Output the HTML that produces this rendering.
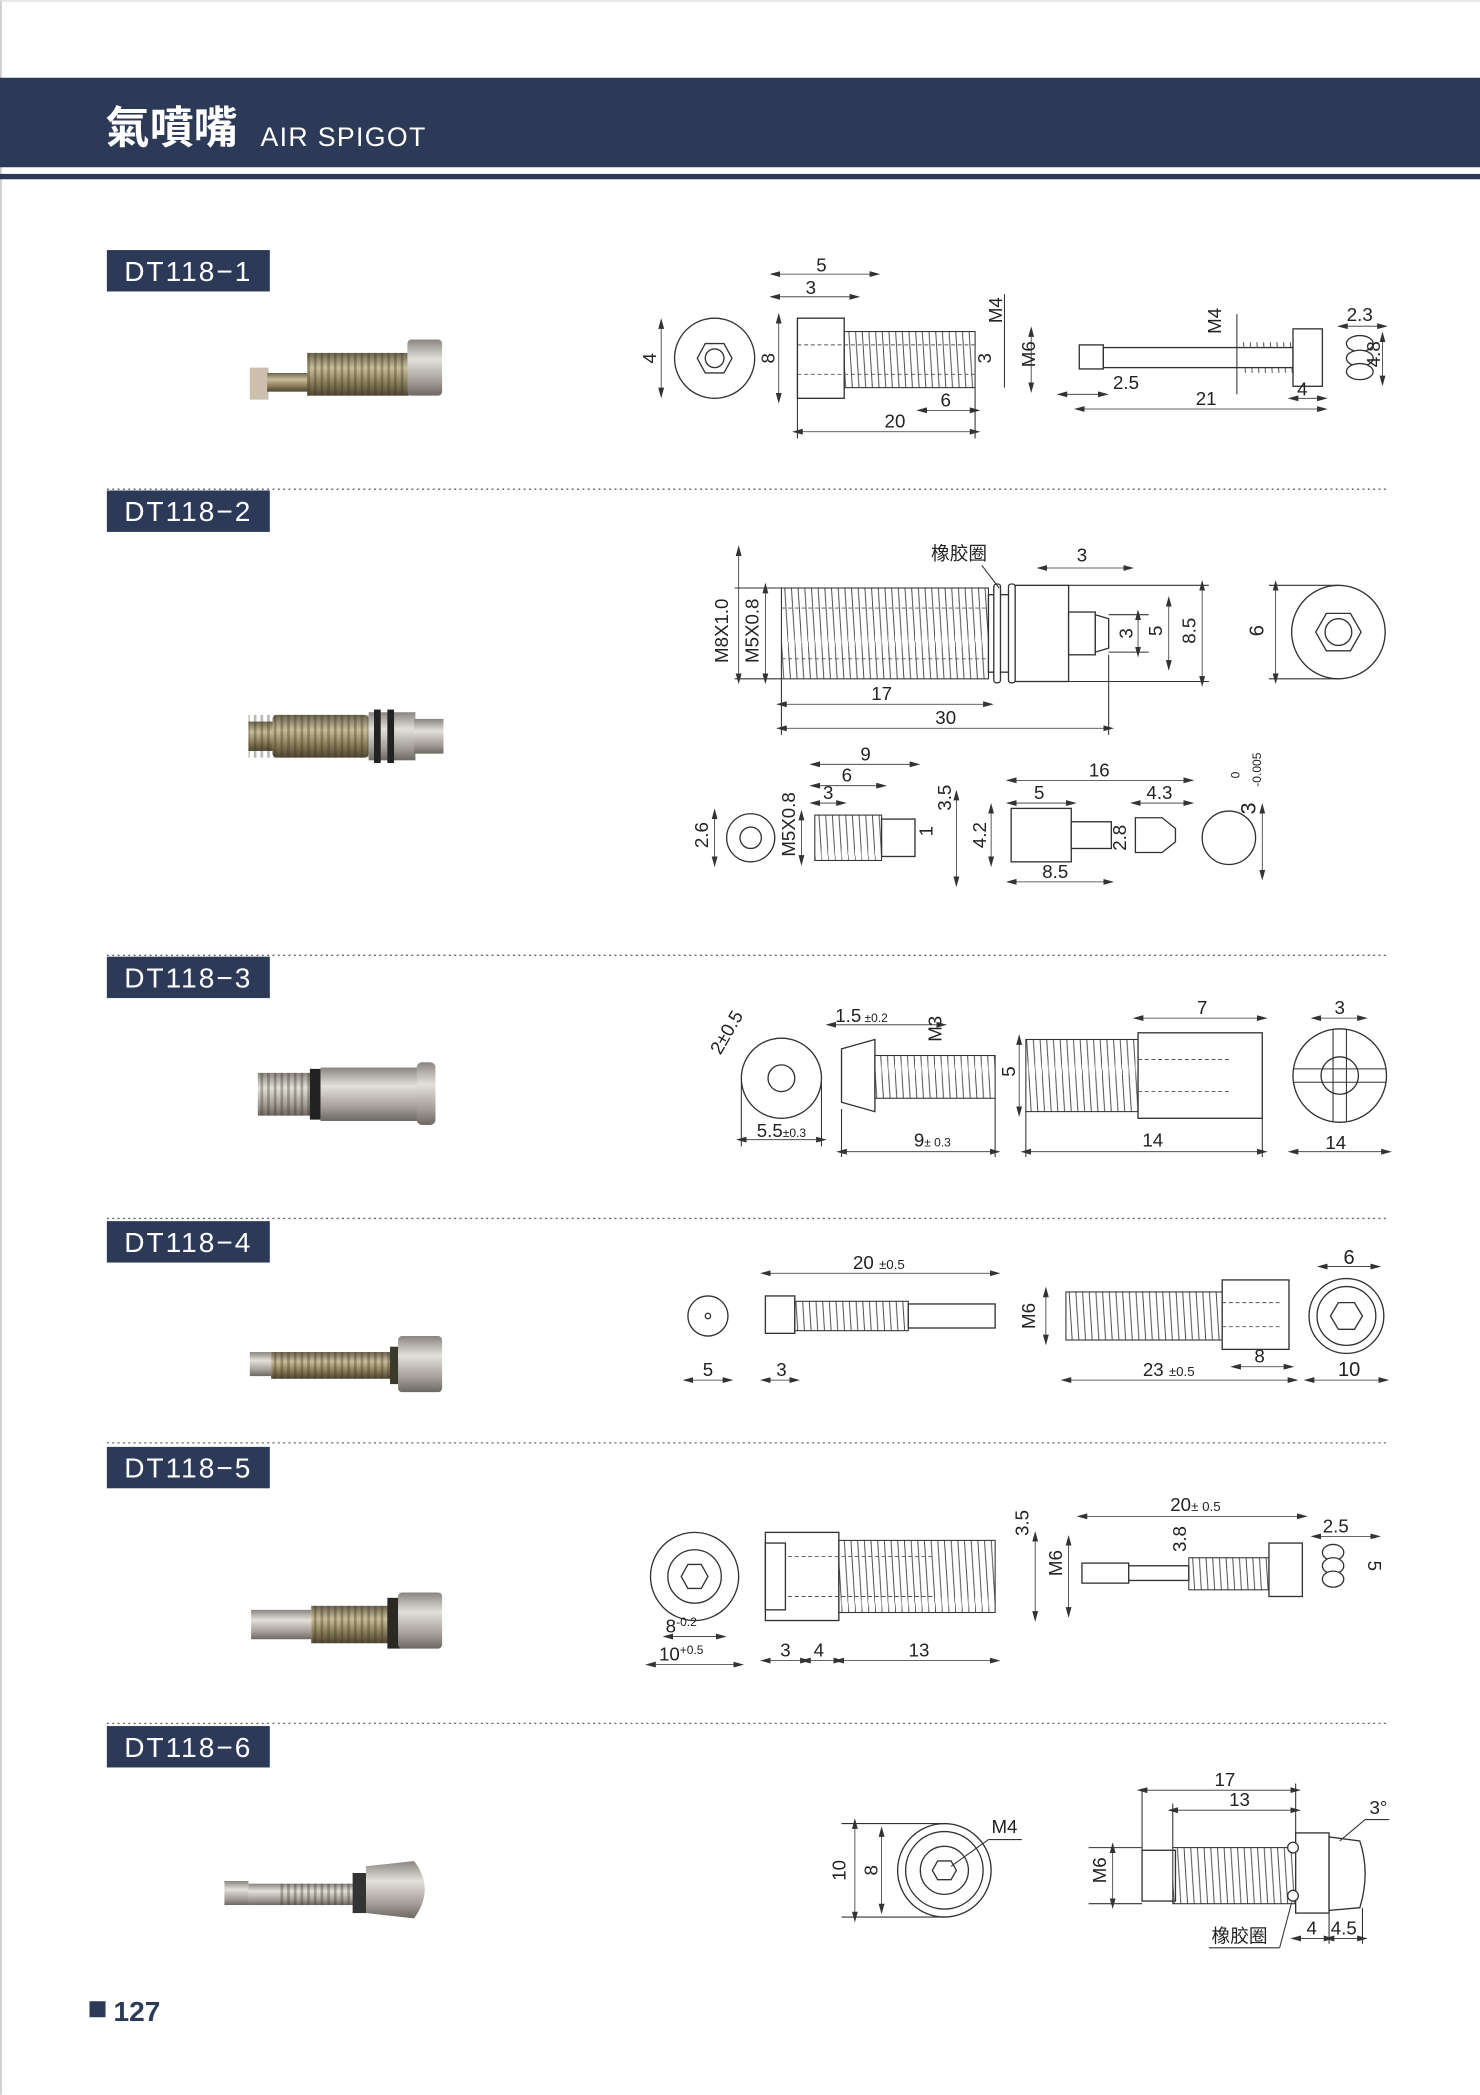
<!DOCTYPE html>
<html><head><meta charset="utf-8">
<style>
html,body{margin:0;padding:0;background:#fff}
svg{display:block}
text{font-family:"Liberation Sans","Noto Sans CJK SC",sans-serif;fill:#222}
.d{font-size:14px}
.ln{stroke:#333;stroke-width:0.8;fill:none}
.o{stroke:#333;stroke-width:1;fill:#fff}
.dash{stroke:#555;stroke-width:0.7;stroke-dasharray:3 2;fill:none}
.dm{stroke:#333;stroke-width:0.6;fill:none;marker-start:url(#a);marker-end:url(#a)}
.lab{font-size:21px;fill:#fff;letter-spacing:1.5px}
</style></head>
<body>
<svg width="1480" height="2095" viewBox="0 0 1108 1568" xmlns="http://www.w3.org/2000/svg">
<defs>
<marker id="a" markerWidth="8" markerHeight="6" refX="4" refY="3" orient="auto-start-reverse" markerUnits="userSpaceOnUse">
<path d="M8,3 L0,0.8 L0,5.2 Z" fill="#333"/></marker>
<pattern id="th" width="5" height="80" patternUnits="userSpaceOnUse">
<line x1="0" y1="0" x2="5" y2="80" stroke="#444" stroke-width="0.7"/></pattern>
<pattern id="ps" width="5" height="60" patternUnits="userSpaceOnUse">
<rect x="0" y="0" width="2" height="60" fill="#3a3222" opacity="0.35"/></pattern>
<linearGradient id="brass" x1="0" y1="0" x2="0" y2="1">
<stop offset="0" stop-color="#6d6450"/><stop offset="0.35" stop-color="#c9bd98"/><stop offset="0.7" stop-color="#8a7c58"/><stop offset="1" stop-color="#4f4634"/></linearGradient>
<linearGradient id="steel" x1="0" y1="0" x2="0" y2="1">
<stop offset="0" stop-color="#8a8580"/><stop offset="0.35" stop-color="#e3e0da"/><stop offset="0.75" stop-color="#a29d96"/><stop offset="1" stop-color="#6c6862"/></linearGradient>
</defs>
<rect x="0" y="0" width="1108" height="1568" fill="#fff"/>
<line x1="0.7" y1="0" x2="0.7" y2="1568" stroke="#bbb" stroke-width="1"/>
<line x1="0" y1="0.5" x2="1108" y2="0.5" stroke="#ddd"/>
<rect x="0" y="58" width="1108" height="67" fill="#2c3a58"/>
<rect x="0" y="130" width="1108" height="4" fill="#2c3a58"/>
<text x="79" y="107" style="font-size:33px;font-weight:bold;fill:#fff">氣噴嘴</text>
<text x="195" y="109" style="font-size:20px;fill:#fff;letter-spacing:1px">AIR SPIGOT</text>
<g>
<rect x="80" y="187" width="122" height="31" fill="#2c3a58"/><text class="lab" x="93" y="210">DT118−1</text>
<rect x="80" y="367" width="122" height="31" fill="#2c3a58"/><text class="lab" x="93" y="390">DT118−2</text>
<rect x="80" y="716" width="122" height="31" fill="#2c3a58"/><text class="lab" x="93" y="739">DT118−3</text>
<rect x="80" y="914" width="122" height="31" fill="#2c3a58"/><text class="lab" x="93" y="937">DT118−4</text>
<rect x="80" y="1083" width="122" height="31" fill="#2c3a58"/><text class="lab" x="93" y="1106">DT118−5</text>
<rect x="80" y="1292" width="122" height="31" fill="#2c3a58"/><text class="lab" x="93" y="1315">DT118−6</text>
</g>
<g stroke="#666" stroke-width="1" stroke-dasharray="1.5 2.5">
<line x1="80" y1="366" x2="1040" y2="366"/><line x1="80" y1="715" x2="1040" y2="715"/>
<line x1="80" y1="912" x2="1040" y2="912"/><line x1="80" y1="1080" x2="1040" y2="1080"/>
<line x1="80" y1="1290" x2="1040" y2="1290"/></g>
<rect x="67" y="1498" width="12" height="12" fill="#2c3a58"/>
<text x="85" y="1513" style="font-size:21px;font-weight:bold;fill:#2c3a58">127</text>

<!-- Photos -->
<g>
<rect x="187" y="275" width="14" height="24" fill="#cdbfae"/>
<rect x="200" y="279" width="32" height="14" fill="url(#brass)"/>
<rect x="230" y="264" width="76" height="32" fill="url(#brass)"/>
<rect x="230" y="264" width="76" height="32" fill="url(#ps)"/>
<rect x="305" y="254" width="26" height="42" rx="3" fill="url(#steel)"/>
</g>
<g>
<rect x="186" y="540" width="20" height="22" fill="url(#brass)"/>
<rect x="204" y="535" width="72" height="32" rx="3" fill="url(#brass)"/>
<rect x="186" y="535" width="90" height="32" fill="url(#ps)"/>
<rect x="276" y="533" width="35" height="36" fill="url(#steel)"/>
<rect x="280" y="531" width="5" height="40" fill="#222"/><rect x="290" y="531" width="5" height="40" fill="#222"/>
<rect x="310" y="538" width="22" height="26" fill="url(#steel)"/>
</g>
<g>
<rect x="193" y="803" width="40" height="32" fill="url(#steel)"/>
<rect x="193" y="803" width="40" height="32" fill="url(#ps)"/>
<rect x="232" y="800" width="8" height="38" fill="#222"/>
<rect x="240" y="799" width="75" height="40" fill="url(#steel)"/>
<rect x="312" y="795" width="14" height="47" rx="4" fill="url(#steel)"/>
</g>
<g>
<rect x="187" y="1012" width="16" height="18" fill="url(#steel)"/>
<rect x="203" y="1012" width="95" height="20" fill="url(#brass)"/>
<rect x="203" y="1012" width="90" height="20" fill="url(#ps)"/>
<rect x="292" y="1008" width="8" height="28" fill="#3a3a2a"/>
<rect x="298" y="1000" width="33" height="42" rx="3" fill="url(#steel)"/>
</g>
<g>
<rect x="188" y="1205" width="45" height="22" fill="url(#steel)"/>
<rect x="233" y="1202" width="62" height="28" fill="url(#brass)"/>
<rect x="233" y="1202" width="58" height="28" fill="url(#ps)"/>
<rect x="290" y="1196" width="10" height="38" fill="#2a2a22"/>
<rect x="298" y="1192" width="33" height="42" rx="3" fill="url(#steel)"/>
</g>
<g>
<rect x="168" y="1408" width="18" height="18" fill="url(#steel)"/>
<rect x="186" y="1410" width="85" height="16" fill="url(#steel)"/>
<rect x="210" y="1410" width="55" height="16" fill="url(#ps)"/>
<rect x="264" y="1402" width="10" height="30" fill="#333"/>
<path d="M274,1397 L310,1393 Q326,1414 310,1436 L274,1432 Z" fill="url(#steel)"/>
</g>

<!-- DT118-1 -->
<g>
<circle class="o" cx="535" cy="268" r="30"/>
<polygon class="o" points="522,268 528,257 542,257 548,268 542,279 528,279"/>
<circle class="o" cx="535" cy="268" r="7"/>
<line class="dm" x1="495" y1="242" x2="495" y2="294"/>
<text class="d" transform="translate(491,268) rotate(-90)" text-anchor="middle">4</text>
<rect class="o" x="597" y="238" width="35" height="60"/>
<rect x="632" y="248" width="98" height="42" fill="url(#th)" stroke="#333" stroke-width="0.8"/>
<line class="dash" x1="597" y1="258" x2="730" y2="258"/><line class="dash" x1="597" y1="280" x2="730" y2="280"/>
<line class="dm" x1="583" y1="238" x2="583" y2="298"/>
<text class="d" transform="translate(580,268) rotate(-90)" text-anchor="middle">8</text>
<line class="ln" x1="597" y1="238" x2="597" y2="328"/><line class="ln" x1="730" y1="290" x2="730" y2="328"/>
<line class="dm" x1="580" y1="205" x2="655" y2="205"/><text class="d" x="615" y="203" text-anchor="middle">5</text>
<line class="dm" x1="580" y1="222" x2="640" y2="222"/><text class="d" x="607" y="220" text-anchor="middle">3</text>
<line class="dm" x1="597" y1="323" x2="730" y2="323"/><text class="d" x="670" y="320" text-anchor="middle">20</text>
<line class="dm" x1="690" y1="307" x2="730" y2="307"/><text class="d" x="708" y="304" text-anchor="middle">6</text>
<line class="ln" x1="752" y1="220" x2="752" y2="290"/>
<text class="d" transform="translate(750,232) rotate(-90)" text-anchor="middle">M4</text>
<text class="d" transform="translate(742,268) rotate(-90)" text-anchor="middle">3</text>
<line class="dm" x1="772" y1="248" x2="772" y2="290"/>
<text class="d" transform="translate(775,265) rotate(-90)" text-anchor="middle">M6</text>
<rect class="o" x="808" y="258" width="18" height="18"/>
<rect class="o" x="826" y="260" width="142" height="15"/>
<rect x="928" y="256" width="40" height="4" fill="url(#th)"/><rect x="928" y="275" width="40" height="4" fill="url(#th)"/>
<rect class="o" x="968" y="246" width="22" height="43"/>
<line class="ln" x1="926" y1="235" x2="926" y2="295"/>
<text class="d" transform="translate(914,240) rotate(-90)" text-anchor="middle">M4</text>
<line class="dm" x1="795" y1="295" x2="826" y2="295"/><text class="d" x="843" y="291" text-anchor="middle">2.5</text>
<line class="dm" x1="808" y1="306" x2="990" y2="306"/><text class="d" x="903" y="303" text-anchor="middle">21</text>
<line class="dm" x1="968" y1="298" x2="990" y2="298"/><text class="d" x="975" y="296" text-anchor="middle">4</text>
<ellipse class="o" cx="1018" cy="257" rx="10" ry="6"/><ellipse class="o" cx="1018" cy="268" rx="10" ry="6"/><ellipse class="o" cx="1018" cy="278" rx="10" ry="6"/>
<line class="dm" x1="1005" y1="244" x2="1035" y2="244"/><text class="d" x="1018" y="240" text-anchor="middle">2.3</text>
<line class="dm" x1="1035" y1="252" x2="1035" y2="285"/>
<text class="d" transform="translate(1033,265) rotate(-90)" text-anchor="middle">4.8</text>
</g>

<!-- DT118-2 -->
<g>
<rect x="585" y="440" width="155" height="68" fill="url(#th)" stroke="#333" stroke-width="0.8"/>
<line class="dash" x1="585" y1="455" x2="740" y2="455"/><line class="dash" x1="585" y1="493" x2="740" y2="493"/>
<rect class="o" x="740" y="445" width="20" height="58"/>
<rect class="o" x="744" y="437" width="5" height="74" rx="2"/><rect class="o" x="755" y="437" width="5" height="74" rx="2"/>
<rect class="o" x="760" y="438" width="40" height="72"/>
<rect class="o" x="800" y="458" width="20" height="32"/>
<path class="o" d="M820,460 L830,463 L830,485 L820,488 Z"/>
<line class="ln" x1="550" y1="440" x2="585" y2="440"/><line class="ln" x1="550" y1="508" x2="585" y2="508"/>
<line class="dm" x1="553" y1="412" x2="553" y2="508"/>
<text class="d" transform="translate(545,472) rotate(-90)" text-anchor="middle">M8X1.0</text>
<line class="dm" x1="573" y1="440" x2="573" y2="508"/>
<text class="d" transform="translate(568,472) rotate(-90)" text-anchor="middle">M5X0.8</text>
<line class="ln" x1="585" y1="508" x2="585" y2="550"/><line class="ln" x1="830" y1="490" x2="830" y2="550"/>
<line class="dm" x1="585" y1="527" x2="740" y2="527"/><text class="d" x="660" y="524" text-anchor="middle">17</text>
<line class="dm" x1="585" y1="545" x2="830" y2="545"/><text class="d" x="708" y="542" text-anchor="middle">30</text>
<text class="d" x="718" y="419" text-anchor="middle">橡胶圈</text>
<line class="ln" x1="735" y1="423" x2="748" y2="440"/>
<line class="dm" x1="780" y1="425" x2="845" y2="425"/><text class="d" x="810" y="420" text-anchor="middle">3</text>
<line class="ln" x1="830" y1="460" x2="860" y2="460"/><line class="ln" x1="830" y1="488" x2="860" y2="488"/>
<line class="dm" x1="852" y1="460" x2="852" y2="488"/>
<text class="d" transform="translate(848,474) rotate(-90)" text-anchor="middle">3</text>
<line class="dm" x1="875" y1="450" x2="875" y2="498"/>
<text class="d" transform="translate(870,472) rotate(-90)" text-anchor="middle">5</text>
<line class="ln" x1="800" y1="438" x2="905" y2="438"/><line class="ln" x1="800" y1="510" x2="905" y2="510"/>
<line class="dm" x1="900" y1="438" x2="900" y2="510"/>
<text class="d" transform="translate(895,472) rotate(-90)" text-anchor="middle">8.5</text>
<circle class="o" cx="1002" cy="473" r="35"/>
<polygon class="o" points="985,473 993,459 1011,459 1019,473 1011,487 993,487"/>
<circle class="o" cx="1002" cy="473" r="10"/>
<line class="ln" x1="950" y1="438" x2="1002" y2="438"/><line class="ln" x1="950" y1="508" x2="1002" y2="508"/>
<line class="dm" x1="955" y1="438" x2="955" y2="508"/>
<text class="d" transform="translate(946,472) rotate(-90)" text-anchor="middle" style="font-size:15px">6</text>
<circle class="o" cx="562" cy="627" r="18"/><circle class="o" cx="562" cy="627" r="8"/>
<line class="dm" x1="535" y1="609" x2="535" y2="645"/>
<text class="d" transform="translate(530,625) rotate(-90)" text-anchor="middle">2.6</text>
<rect x="610" y="610" width="50" height="34" fill="url(#th)" stroke="#333" stroke-width="0.8"/>
<rect class="o" x="660" y="613" width="25" height="28"/>
<line class="dm" x1="600" y1="610" x2="600" y2="644"/>
<text class="d" transform="translate(595,617) rotate(-90)" text-anchor="middle">M5X0.8</text>
<line class="dm" x1="610" y1="572" x2="685" y2="572"/><text class="d" x="648" y="569" text-anchor="middle">9</text>
<line class="dm" x1="610" y1="588" x2="660" y2="588"/><text class="d" x="634" y="585" text-anchor="middle">6</text>
<line class="dm" x1="610" y1="601" x2="630" y2="601"/><text class="d" x="620" y="598" text-anchor="middle">3</text>
<line class="dm" x1="716" y1="595" x2="716" y2="660"/>
<text class="d" transform="translate(712,597) rotate(-90)" text-anchor="middle">3.5</text>
<text class="d" transform="translate(698,622) rotate(-90)" text-anchor="middle">1</text>
<rect class="o" x="757" y="605" width="45" height="40"/>
<rect class="o" x="802" y="615" width="30" height="20"/>
<path class="o" d="M850,612 L870,612 L880,620 L880,630 L870,638 L850,638 Z"/>
<line class="dm" x1="742" y1="605" x2="742" y2="645"/>
<text class="d" transform="translate(738,625) rotate(-90)" text-anchor="middle">4.2</text>
<line class="dm" x1="757" y1="584" x2="890" y2="584"/><text class="d" x="823" y="581" text-anchor="middle">16</text>
<line class="dm" x1="757" y1="601" x2="802" y2="601"/><text class="d" x="778" y="598" text-anchor="middle">5</text>
<line class="dm" x1="850" y1="601" x2="890" y2="601"/><text class="d" x="868" y="598" text-anchor="middle">4.3</text>
<line class="dm" x1="757" y1="660" x2="830" y2="660"/><text class="d" x="790" y="657" text-anchor="middle">8.5</text>
<text class="d" transform="translate(843,627) rotate(-90)" text-anchor="middle">2.8</text>
<circle class="o" cx="920" cy="627" r="20"/>
<line class="dm" x1="945" y1="605" x2="945" y2="655"/>
<text class="d" transform="translate(940,605) rotate(-90)" text-anchor="middle" style="font-size:16px">3</text>
<text transform="translate(928,580) rotate(-90)" style="font-size:9px" text-anchor="middle">0</text>
<text transform="translate(944,576) rotate(-90)" style="font-size:9px" text-anchor="middle">-0.005</text>
</g>

<!-- DT118-3 -->
<g>
<circle class="o" cx="585" cy="807" r="30"/><circle class="o" cx="585" cy="807" r="10"/>
<text class="d" transform="translate(548,775) rotate(-60)" text-anchor="middle">2±0.5</text>
<line class="ln" x1="555" y1="810" x2="555" y2="858"/><line class="ln" x1="615" y1="810" x2="615" y2="858"/>
<line class="dm" x1="555" y1="853" x2="615" y2="853"/><text class="d" x="585" y="851" text-anchor="middle">5.5<tspan style="font-size:9px">±0.3</tspan></text>
<path class="o" d="M630,785 L655,778 L655,832 L630,825 Z"/>
<rect x="655" y="790" width="90" height="32" fill="url(#th)" stroke="#333" stroke-width="0.8"/>
<line class="dm" x1="622" y1="767" x2="705" y2="767"/><text class="d" x="645" y="765" text-anchor="middle">1.5<tspan style="font-size:9px"> ±0.2</tspan></text>
<text class="d" transform="translate(705,770) rotate(-90)" text-anchor="middle">M3</text>
<line class="ln" x1="630" y1="830" x2="630" y2="866"/><line class="ln" x1="745" y1="822" x2="745" y2="866"/>
<line class="dm" x1="630" y1="862" x2="745" y2="862"/><text class="d" x="698" y="858" text-anchor="middle">9<tspan style="font-size:9px">± 0.3</tspan></text>
<line class="dm" x1="763" y1="778" x2="763" y2="832"/>
<text class="d" transform="translate(760,802) rotate(-90)" text-anchor="middle">5</text>
<rect x="768" y="778" width="84" height="54" fill="url(#th)" stroke="#333" stroke-width="0.8"/>
<rect class="o" x="852" y="773" width="93" height="64"/>
<line class="dash" x1="852" y1="793" x2="920" y2="793"/><line class="dash" x1="852" y1="817" x2="920" y2="817"/>
<line class="dm" x1="852" y1="762" x2="945" y2="762"/><text class="d" x="900" y="759" text-anchor="middle">7</text>
<line class="ln" x1="768" y1="832" x2="768" y2="866"/><line class="ln" x1="945" y1="837" x2="945" y2="866"/>
<line class="dm" x1="768" y1="862" x2="945" y2="862"/><text class="d" x="863" y="858" text-anchor="middle">14</text>
<circle class="o" cx="1003" cy="805" r="35"/><circle class="o" cx="1003" cy="805" r="14"/>
<line class="ln" x1="998" y1="770" x2="998" y2="840"/><line class="ln" x1="1008" y1="770" x2="1008" y2="840"/>
<line class="ln" x1="968" y1="800" x2="1038" y2="800"/><line class="ln" x1="968" y1="810" x2="1038" y2="810"/>
<line class="dm" x1="985" y1="762" x2="1020" y2="762"/><text class="d" x="1003" y="759" text-anchor="middle">3</text>
<line class="dm" x1="968" y1="862" x2="1038" y2="862"/><text class="d" x="1000" y="860" text-anchor="middle">14</text>
</g>

<!-- DT118-4 -->
<g>
<circle class="o" cx="530" cy="985" r="15"/><circle class="o" cx="530" cy="985" r="2"/>
<line class="dm" x1="515" y1="1033" x2="545" y2="1033"/><text class="d" x="530" y="1030" text-anchor="middle">5</text>
<rect class="o" x="573" y="970" width="22" height="28"/>
<rect x="595" y="974" width="85" height="22" fill="url(#th)" stroke="#333" stroke-width="0.8"/>
<rect class="o" x="680" y="976" width="65" height="18"/>
<line class="dm" x1="573" y1="953" x2="745" y2="953"/><text class="d" x="658" y="950" text-anchor="middle">20 <tspan style="font-size:10px">±0.5</tspan></text>
<line class="dm" x1="573" y1="1033" x2="595" y2="1033"/><text class="d" x="585" y="1030" text-anchor="middle">3</text>
<rect x="798" y="967" width="117" height="36" fill="url(#th)" stroke="#333" stroke-width="0.8"/>
<rect class="o" x="915" y="958" width="50" height="52"/>
<line class="dash" x1="915" y1="975" x2="960" y2="975"/><line class="dash" x1="915" y1="993" x2="960" y2="993"/>
<line class="dm" x1="783" y1="967" x2="783" y2="1003"/>
<text class="d" transform="translate(775,985) rotate(-90)" text-anchor="middle">M6</text>
<line class="dm" x1="798" y1="1033" x2="968" y2="1033"/><text class="d" x="875" y="1030" text-anchor="middle">23 <tspan style="font-size:10px">±0.5</tspan></text>
<line class="dm" x1="925" y1="1023" x2="965" y2="1023"/><text class="d" x="943" y="1020" text-anchor="middle">8</text>
<circle class="o" cx="1008" cy="985" r="28"/><circle class="o" cx="1008" cy="985" r="22"/>
<polygon class="o" points="996,985 1002,975 1014,975 1020,985 1014,995 1002,995"/>
<line class="dm" x1="990" y1="948" x2="1030" y2="948"/><text class="d" x="1010" y="946" text-anchor="middle" style="font-size:15px">6</text>
<line class="dm" x1="980" y1="1033" x2="1036" y2="1033"/><text class="d" x="1010" y="1030" text-anchor="middle" style="font-size:15px">10</text>
</g>

<!-- DT118-5 -->
<g>
<circle class="o" cx="520" cy="1180" r="33"/><circle class="o" cx="520" cy="1180" r="20"/>
<polygon class="o" points="510,1180 515,1171 525,1171 530,1180 525,1189 515,1189"/>
<line class="dm" x1="500" y1="1225" x2="540" y2="1225"/>
<text class="d" x="510" y="1222" text-anchor="middle">8<tspan style="font-size:9px" dy="-5">-0.2</tspan></text>
<line class="dm" x1="487" y1="1246" x2="553" y2="1246"/>
<text class="d" x="510" y="1243" text-anchor="middle">10<tspan style="font-size:9px" dy="-5">+0.5</tspan></text>
<rect class="o" x="573" y="1147" width="55" height="66"/>
<rect class="o" x="573" y="1155" width="15" height="50"/>
<rect x="628" y="1153" width="117" height="54" fill="url(#th)" stroke="#333" stroke-width="0.8"/>
<line class="dash" x1="590" y1="1165" x2="700" y2="1165"/><line class="dash" x1="590" y1="1195" x2="700" y2="1195"/>
<line class="dm" x1="573" y1="1243" x2="603" y2="1243"/><text class="d" x="588" y="1240" text-anchor="middle">3</text>
<line class="dm" x1="603" y1="1243" x2="628" y2="1243"/><text class="d" x="613" y="1240" text-anchor="middle">4</text>
<line class="dm" x1="628" y1="1243" x2="745" y2="1243"/><text class="d" x="688" y="1240" text-anchor="middle">13</text>
<line class="dm" x1="775" y1="1150" x2="775" y2="1210"/>
<text class="d" transform="translate(770,1140) rotate(-90)" text-anchor="middle">3.5</text>
<line class="dm" x1="800" y1="1153" x2="800" y2="1207"/>
<text class="d" transform="translate(795,1170) rotate(-90)" text-anchor="middle">M6</text>
<rect class="o" x="810" y="1170" width="35" height="15"/>
<rect class="o" x="845" y="1172" width="45" height="11"/>
<rect x="890" y="1166" width="60" height="24" fill="url(#th)" stroke="#333" stroke-width="0.8"/>
<rect class="o" x="950" y="1155" width="25" height="40"/>
<line class="dm" x1="810" y1="1135" x2="975" y2="1135"/><text class="d" x="895" y="1131" text-anchor="middle">20<tspan style="font-size:10px">± 0.5</tspan></text>
<text class="d" transform="translate(888,1152) rotate(-90)" text-anchor="middle">3.8</text>
<ellipse class="o" cx="998" cy="1162" rx="8" ry="6"/><ellipse class="o" cx="998" cy="1172" rx="8" ry="6"/><ellipse class="o" cx="998" cy="1182" rx="8" ry="6"/>
<line class="dm" x1="985" y1="1150" x2="1030" y2="1150"/><text class="d" x="1000" y="1147" text-anchor="middle">2.5</text>
<text transform="translate(1024,1172) rotate(90)" class="d" text-anchor="middle">5</text>
</g>

<!-- DT118-6 -->
<g>
<circle class="o" cx="707" cy="1400" r="35"/><circle class="o" cx="707" cy="1400" r="29"/><circle class="o" cx="707" cy="1400" r="18"/>
<polygon class="o" points="698,1400 702,1393 712,1393 716,1400 712,1407 702,1407"/>
<line class="ln" x1="630" y1="1365" x2="707" y2="1365"/><line class="ln" x1="630" y1="1435" x2="707" y2="1435"/>
<line class="dm" x1="640" y1="1365" x2="640" y2="1435"/>
<text class="d" transform="translate(633,1400) rotate(-90)" text-anchor="middle">10</text>
<line class="dm" x1="660" y1="1371" x2="660" y2="1429"/>
<text class="d" transform="translate(657,1400) rotate(-90)" text-anchor="middle">8</text>
<text class="d" x="752" y="1372" text-anchor="middle">M4</text>
<line class="ln" x1="740" y1="1377" x2="765" y2="1377"/><line class="ln" x1="740" y1="1377" x2="712" y2="1397"/>
<rect class="o" x="855" y="1385" width="25" height="38"/>
<rect x="878" y="1383" width="92" height="42" fill="url(#th)" stroke="#333" stroke-width="0.8"/>
<rect class="o" x="970" y="1372" width="25" height="60"/>
<path class="o" d="M995,1375 L1018,1378 Q1026,1402 1018,1428 L995,1430 Z"/>
<circle class="o" cx="968" cy="1383" r="4"/><circle class="o" cx="968" cy="1419" r="4"/>
<line class="ln" x1="855" y1="1340" x2="855" y2="1385"/><line class="ln" x1="878" y1="1350" x2="878" y2="1383"/><line class="ln" x1="970" y1="1335" x2="970" y2="1372"/>
<line class="dm" x1="855" y1="1340" x2="970" y2="1340"/><text class="d" x="917" y="1337" text-anchor="middle">17</text>
<line class="dm" x1="878" y1="1355" x2="970" y2="1355"/><text class="d" x="928" y="1352" text-anchor="middle">13</text>
<line class="ln" x1="815" y1="1383" x2="855" y2="1383"/><line class="ln" x1="815" y1="1425" x2="855" y2="1425"/>
<line class="dm" x1="833" y1="1383" x2="833" y2="1425"/>
<text class="d" transform="translate(828,1400) rotate(-90)" text-anchor="middle">M6</text>
<text class="d" x="1032" y="1358" text-anchor="middle">3°</text>
<line class="ln" x1="1040" y1="1362" x2="1022" y2="1362"/><line class="ln" x1="1022" y1="1362" x2="1003" y2="1378"/>
<text class="d" x="928" y="1454" text-anchor="middle">橡胶圈</text>
<line class="ln" x1="905" y1="1458" x2="958" y2="1458"/><line class="ln" x1="958" y1="1458" x2="967" y2="1424"/>
<line class="ln" x1="995" y1="1432" x2="995" y2="1455"/><line class="ln" x1="1020" y1="1428" x2="1020" y2="1455"/>
<line class="dm" x1="970" y1="1451" x2="995" y2="1451"/><text class="d" x="982" y="1448" text-anchor="middle">4</text>
<line class="dm" x1="995" y1="1451" x2="1020" y2="1451"/><text class="d" x="1006" y="1448" text-anchor="middle">4.5</text>
</g>
</svg>
</body></html>
